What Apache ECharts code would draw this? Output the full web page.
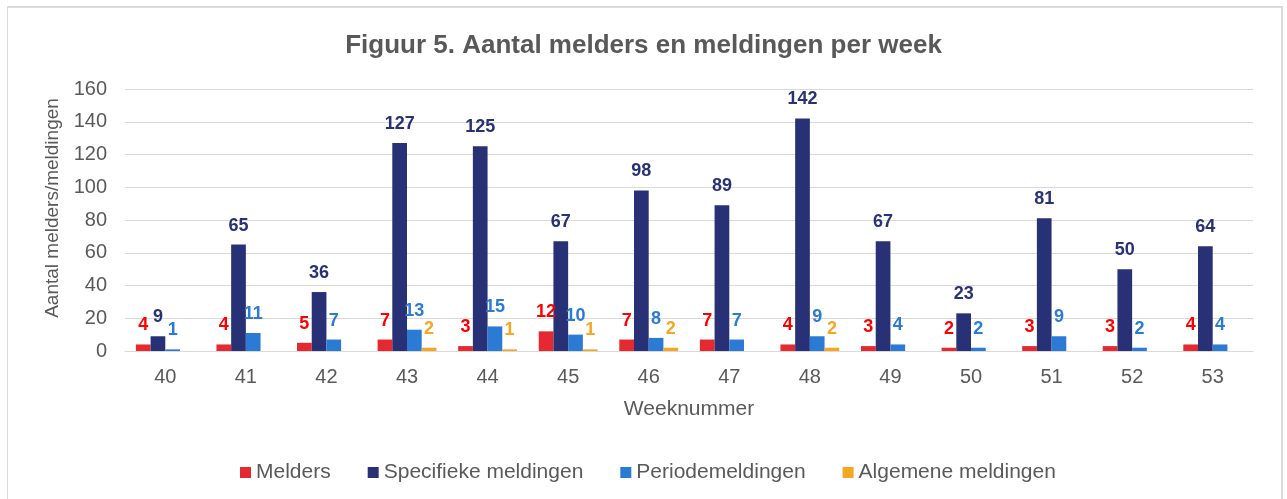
<!DOCTYPE html>
<html>
<head>
<meta charset="utf-8">
<script src="https://cdn.jsdelivr.net/npm/echarts@6/dist/echarts.min.js"></script>
<style>
  html, body { margin: 0; padding: 0; background: #fff; }
  #frame { position: absolute; left: 7px; top: 6px; width: 1276px; height: 500px; border: 1px solid #d9d9d9; border-width: 2px 2px 0 1px; box-sizing: border-box; }
  #main { position: absolute; left: 0; top: 0; width: 1287px; height: 499px; }
</style>
</head>
<body>
<div id="frame"></div>
<div id="main"></div>
<script>
// data
const weeks = ['40','41','42','43','44','45','46','47','48','49','50','51','52','53'];
const melders = [4, 4, 5, 7, 3, 12, 7, 7, 4, 3, 2, 3, 3, 4];
const specifiek = [9, 65, 36, 127, 125, 67, 98, 89, 142, 67, 23, 81, 50, 64];
const periode = [1, 11, 7, 13, 15, 10, 8, 7, 9, 4, 2, 9, 2, 4];
const algemeen = [null, null, null, 2, 1, 1, 2, null, 2, null, null, null, null, null];

const chart = echarts.init(document.getElementById('main'));

// helper for one bar series with its label colour
function bars(name, data, color, labelColor) {
  return {
    name: name,
    type: 'bar',
    data: data,
    barGap: '0%',
    barCategoryGap: '27%',
    itemStyle: { color: color },
    label: {
      show: true,
      position: 'top',
      distance: 10,
      color: labelColor,
      fontSize: 18,
      fontWeight: 'bold',
      fontFamily: 'Liberation Sans, Arial, sans-serif'
    }
  };
}

const option = {
  animation: false,
  textStyle: { fontFamily: 'Liberation Sans, Arial, sans-serif' },
  title: {
    text: 'Figuur 5. Aantal melders en meldingen per week',
    left: 'center',
    top: 28,
    textStyle: { fontSize: 26, fontWeight: 'bold', color: '#595959' }
  },
  legend: {
    top: 457,
    left: 235,
    itemWidth: 11,
    itemHeight: 11,
    itemGap: 37,
    icon: 'rect',
    textStyle: { fontSize: 21, color: '#595959' },
    data: ['Melders', 'Specifieke meldingen', 'Periodemeldingen', 'Algemene meldingen']
  },
  grid: { left: 125, right: 34, top: 89, bottom: 148 },
  xAxis: {
    type: 'category',
    data: weeks,
    name: 'Weeknummer',
    nameLocation: 'middle',
    nameGap: 48,
    nameTextStyle: { fontSize: 21, color: '#595959' },
    axisLine: { lineStyle: { color: '#d9d9d9' } },
    axisTick: { show: false },
    axisLabel: { fontSize: 20, color: '#595959', margin: 16 }
  },
  yAxis: {
    type: 'value',
    min: 0,
    max: 160,
    interval: 20,
    name: 'Aantal melders/meldingen',
    nameLocation: 'middle',
    nameGap: 61,
    nameTextStyle: { fontSize: 19, color: '#595959', padding: [0, 0, 0, 24] },
    axisLabel: { fontSize: 20, color: '#595959', margin: 18 },
    splitLine: { lineStyle: { color: '#d9d9d9' } }
  },
  series: [
    bars('Melders', melders, '#e42a30', '#ff0000'),
    bars('Specifieke meldingen', specifiek, '#283175', '#283175'),
    bars('Periodemeldingen', periode, '#2b7bd4', '#2b7bd4'),
    bars('Algemene meldingen', algemeen, '#f5a623', '#f5a623')
  ]
};

chart.setOption(option);
</script>
</body>
</html>
